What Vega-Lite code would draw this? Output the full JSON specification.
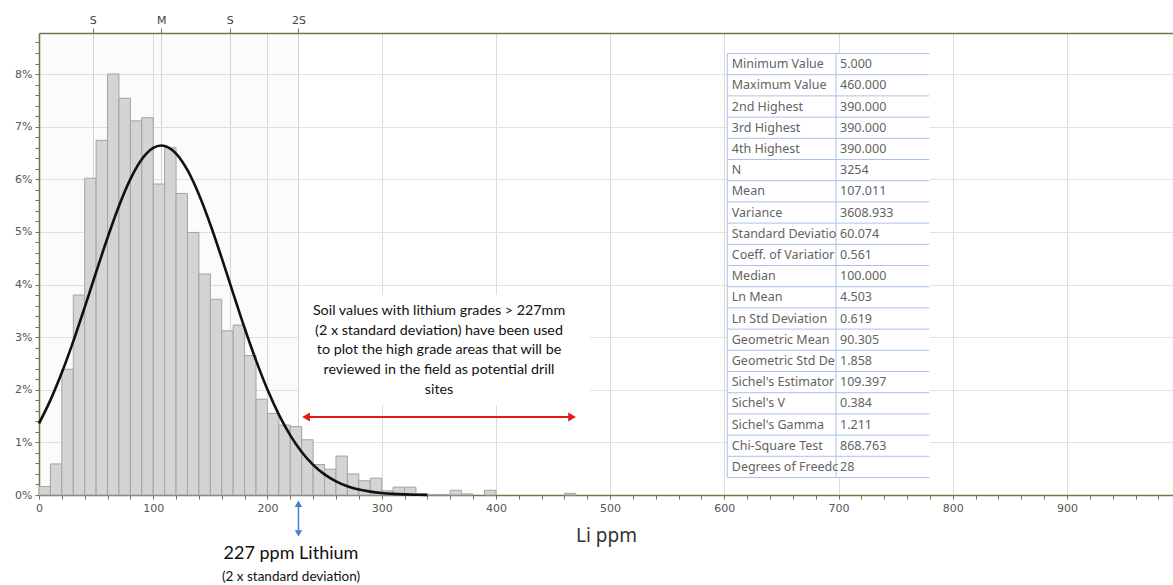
{
  "$schema": "https://vega.github.io/schema/vega-lite/v6.json",
  "width": 1134,
  "height": 462,
  "autosize": {"type": "none"},
  "padding": {"left": 39, "top": 33, "right": 0, "bottom": 90},
  "background": "white",
  "config": {
    "view": {"stroke": null},
    "axis": {
      "domainColor": "#6e7a48",
      "domainWidth": 1.5,
      "tickColor": "#6e7a48",
      "labelColor": "#555555",
      "labelFont": "DejaVu Sans",
      "labelFontSize": 11,
      "labelOverlap": false,
      "labelFlush": false
    }
  },
  "datasets": {
    "bins": [
      {"lo": 0, "hi": 10, "pct": 0.16},
      {"lo": 10, "hi": 20, "pct": 0.59},
      {"lo": 20, "hi": 30, "pct": 2.39},
      {"lo": 30, "hi": 40, "pct": 3.8},
      {"lo": 40, "hi": 50, "pct": 6.02},
      {"lo": 50, "hi": 60, "pct": 6.74},
      {"lo": 60, "hi": 70, "pct": 8.0},
      {"lo": 70, "hi": 80, "pct": 7.54},
      {"lo": 80, "hi": 90, "pct": 7.11},
      {"lo": 90, "hi": 100, "pct": 7.17},
      {"lo": 100, "hi": 110, "pct": 5.91},
      {"lo": 110, "hi": 120, "pct": 6.6},
      {"lo": 120, "hi": 130, "pct": 5.73},
      {"lo": 130, "hi": 140, "pct": 4.99},
      {"lo": 140, "hi": 150, "pct": 4.2},
      {"lo": 150, "hi": 160, "pct": 3.72},
      {"lo": 160, "hi": 170, "pct": 3.12},
      {"lo": 170, "hi": 180, "pct": 3.23},
      {"lo": 180, "hi": 190, "pct": 2.65},
      {"lo": 190, "hi": 200, "pct": 1.82},
      {"lo": 200, "hi": 210, "pct": 1.55},
      {"lo": 210, "hi": 220, "pct": 1.33},
      {"lo": 220, "hi": 230, "pct": 1.3},
      {"lo": 230, "hi": 240, "pct": 1.05},
      {"lo": 240, "hi": 250, "pct": 0.58},
      {"lo": 250, "hi": 260, "pct": 0.49},
      {"lo": 260, "hi": 270, "pct": 0.74},
      {"lo": 270, "hi": 280, "pct": 0.4},
      {"lo": 280, "hi": 290, "pct": 0.27},
      {"lo": 290, "hi": 300, "pct": 0.32},
      {"lo": 300, "hi": 310, "pct": 0.08},
      {"lo": 310, "hi": 320, "pct": 0.15},
      {"lo": 320, "hi": 330, "pct": 0.15},
      {"lo": 330, "hi": 340, "pct": 0.02},
      {"lo": 340, "hi": 350, "pct": 0.01},
      {"lo": 350, "hi": 360, "pct": 0.01},
      {"lo": 360, "hi": 370, "pct": 0.09},
      {"lo": 370, "hi": 380, "pct": 0.02},
      {"lo": 390, "hi": 400, "pct": 0.09},
      {"lo": 460, "hi": 470, "pct": 0.03}
    ],
    "curve": [
      {"li": 0, "pct": 1.359},
      {"li": 10, "pct": 1.803},
      {"li": 20, "pct": 2.327},
      {"li": 30, "pct": 2.92},
      {"li": 40, "pct": 3.566},
      {"li": 50, "pct": 4.233},
      {"li": 60, "pct": 4.889},
      {"li": 70, "pct": 5.493},
      {"li": 80, "pct": 6.003},
      {"li": 90, "pct": 6.38},
      {"li": 100, "pct": 6.596},
      {"li": 107, "pct": 6.641},
      {"li": 110, "pct": 6.633},
      {"li": 120, "pct": 6.488},
      {"li": 130, "pct": 6.172},
      {"li": 140, "pct": 5.711},
      {"li": 150, "pct": 5.141},
      {"li": 160, "pct": 4.501},
      {"li": 170, "pct": 3.833},
      {"li": 180, "pct": 3.174},
      {"li": 190, "pct": 2.558},
      {"li": 200, "pct": 2.004},
      {"li": 210, "pct": 1.527},
      {"li": 220, "pct": 1.133},
      {"li": 230, "pct": 0.817},
      {"li": 240, "pct": 0.573},
      {"li": 250, "pct": 0.391},
      {"li": 260, "pct": 0.259},
      {"li": 270, "pct": 0.167},
      {"li": 280, "pct": 0.105},
      {"li": 290, "pct": 0.064},
      {"li": 300, "pct": 0.038},
      {"li": 310, "pct": 0.022},
      {"li": 320, "pct": 0.012},
      {"li": 330, "pct": 0.006},
      {"li": 340, "pct": 0.003}
    ],
    "stats": [
      {"row": 0, "label": "Minimum Value", "value": "5.000"},
      {"row": 1, "label": "Maximum Value", "value": "460.000"},
      {"row": 2, "label": "2nd Highest", "value": "390.000"},
      {"row": 3, "label": "3rd Highest", "value": "390.000"},
      {"row": 4, "label": "4th Highest", "value": "390.000"},
      {"row": 5, "label": "N", "value": "3254"},
      {"row": 6, "label": "Mean", "value": "107.011"},
      {"row": 7, "label": "Variance", "value": "3608.933"},
      {"row": 8, "label": "Standard Deviatio", "value": "60.074"},
      {"row": 9, "label": "Coeff. of Variatior", "value": "0.561"},
      {"row": 10, "label": "Median", "value": "100.000"},
      {"row": 11, "label": "Ln Mean", "value": "4.503"},
      {"row": 12, "label": "Ln Std Deviation", "value": "0.619"},
      {"row": 13, "label": "Geometric Mean", "value": "90.305"},
      {"row": 14, "label": "Geometric Std De", "value": "1.858"},
      {"row": 15, "label": "Sichel's Estimator", "value": "109.397"},
      {"row": 16, "label": "Sichel's V", "value": "0.384"},
      {"row": 17, "label": "Sichel's Gamma", "value": "1.211"},
      {"row": 18, "label": "Chi-Square Test", "value": "868.763"},
      {"row": 19, "label": "Degrees of Freedc", "value": "28"}
    ]
  },
  "layer": [
    {
      "data": {"values": [{"lo": 0, "hi": 227.159}]},
      "mark": {"type": "rect", "fill": "#000000", "opacity": 0.014},
      "encoding": {
        "x": {
          "field": "lo", "type": "quantitative",
          "scale": {"domain": [0, 992.8], "nice": false, "zero": false},
          "axis": {
            "orient": "top",
            "title": null,
            "values": [46.937, 107.011, 167.085, 227.159],
            "labelExpr": "datum.value < 60 ? 'S' : datum.value < 120 ? 'M' : datum.value < 180 ? 'S' : '2S'",
            "labelColor": "#444444",
            "tickSize": 5,
            "labelPadding": 3,
            "grid": true,
            "gridColor": "#d6d6d6",
            "gridWidth": 1
          }
        },
        "x2": {"field": "hi"},
        "y": {"datum": 0, "type": "quantitative", "axis": null, "scale": {"domain": [0, 8.78], "nice": false}},
        "y2": {"datum": 8.78}
      }
    },
    {
      "data": {"values": [{"x": 228.5, "x2": 482.4, "y": 1.71, "y2": 3.8}]},
      "mark": {"type": "rect", "fill": "white"},
      "encoding": {
        "x": {"field": "x", "type": "quantitative", "axis": null},
        "x2": {"field": "x2"},
        "y": {"field": "y", "type": "quantitative", "axis": null, "scale": {"domain": [0, 8.78], "nice": false}},
        "y2": {"field": "y2"}
      }
    },
    {
      "data": {"name": "bins"},
      "mark": {"type": "rect", "fill": "#d4d4d4", "stroke": "#a3a3a3", "strokeWidth": 1},
      "encoding": {
        "x": {
          "field": "lo", "type": "quantitative",
          "scale": {"domain": [0, 992.8], "nice": false, "zero": false},
          "axis": {
            "orient": "bottom",
            "title": "Li ppm",
            "titleFont": "Noto Sans",
            "titleFontSize": 19,
            "titleFontWeight": "normal",
            "titleColor": "#333333",
            "titlePadding": 13,
            "values": [0,20,40,60,80,100,120,140,160,180,200,220,240,260,280,300,320,340,360,380,400,420,440,460,480,500,520,540,560,580,600,620,640,660,680,700,720,740,760,780,800,820,840,860,880,900,920,940,960,980],
            "labelExpr": "datum.value % 100 === 0 ? datum.label : ''",
            "tickSize": 4,
            "labelPadding": 3,
            "grid": true,
            "gridColor": "#dcdcd4",
            "gridOpacity": {"condition": {"test": "datum.value % 100 === 0", "value": 1}, "value": 0}
          }
        },
        "x2": {"field": "hi"},
        "y": {
          "field": "pct", "type": "quantitative",
          "scale": {"domain": [0, 8.78], "nice": false},
          "axis": {
            "orient": "left",
            "title": null,
            "values": [0,0.2,0.4,0.6,0.8,1,1.2,1.4,1.6,1.8,2,2.2,2.4,2.6,2.8,3,3.2,3.4,3.6,3.8,4,4.2,4.4,4.6,4.8,5,5.2,5.4,5.6,5.8,6,6.2,6.4,6.6,6.8,7,7.2,7.4,7.6,7.8,8,8.2,8.4,8.6],
            "labelExpr": "abs(datum.value - round(datum.value)) < 0.01 ? round(datum.value) + '%' : ''",
            "tickSize": 4,
            "labelPadding": 3,
            "grid": true,
            "gridColor": "#e2e6d0",
            "gridOpacity": {"condition": {"test": "abs(datum.value - round(datum.value)) < 0.01", "value": 1}, "value": 0}
          }
        },
        "y2": {"datum": 0}
      }
    },
    {
      "data": {"name": "curve"},
      "mark": {"type": "line", "color": "#111111", "strokeWidth": 2.6, "interpolate": "monotone"},
      "encoding": {
        "x": {"field": "li", "type": "quantitative", "axis": null},
        "y": {"field": "pct", "type": "quantitative", "axis": null, "scale": {"domain": [0, 8.78], "nice": false}}
      }
    },
    {
      "data": {"values": [{"x": 350.2, "y": 3.5, "t": "Soil values with lithium grades > 227mm\n(2 x standard deviation) have been used\nto plot the high grade areas that will be\nreviewed in the field as potential drill\nsites"}]},
      "mark": {"type": "text", "font": "Lato", "fontSize": 14.3, "color": "#111111", "align": "center", "baseline": "middle", "lineBreak": "\n", "lineHeight": 19.7},
      "encoding": {
        "x": {"field": "x", "type": "quantitative", "axis": null},
        "y": {"field": "y", "type": "quantitative", "axis": null, "scale": {"domain": [0, 8.78], "nice": false}},
        "text": {"field": "t"}
      }
    },
    {
      "data": {"values": [{"x": 232, "x2": 468, "y": 1.482}]},
      "mark": {"type": "rule", "color": "#e3191c", "strokeWidth": 2},
      "encoding": {
        "x": {"field": "x", "type": "quantitative", "axis": null},
        "x2": {"field": "x2"},
        "y": {"field": "y", "type": "quantitative", "axis": null, "scale": {"domain": [0, 8.78], "nice": false}}
      }
    },
    {
      "data": {"values": [{"x": 233.8, "y": 1.482, "s": "triangle-left"}, {"x": 466.7, "y": 1.482, "s": "triangle-right"}]},
      "mark": {"type": "point", "filled": true, "color": "#e3191c", "size": 80, "opacity": 1},
      "encoding": {
        "x": {"field": "x", "type": "quantitative", "axis": null},
        "y": {"field": "y", "type": "quantitative", "axis": null, "scale": {"domain": [0, 8.78], "nice": false}},
        "shape": {"field": "s", "type": "nominal", "scale": null, "legend": null}
      }
    },
    {
      "data": {"values": [{"x": 227.159, "y": -0.15, "y2": -0.74}]},
      "mark": {"type": "rule", "color": "#4a7cc9", "strokeWidth": 1.5},
      "encoding": {
        "x": {"field": "x", "type": "quantitative", "axis": null},
        "y": {"field": "y", "type": "quantitative", "axis": null, "scale": {"domain": [0, 8.78], "nice": false}},
        "y2": {"field": "y2"}
      }
    },
    {
      "data": {"values": [{"x": 227.159, "y": -0.165, "s": "triangle-up"}, {"x": 227.159, "y": -0.73, "s": "triangle-down"}]},
      "mark": {"type": "point", "filled": true, "color": "#4a7cc9", "size": 55, "opacity": 1},
      "encoding": {
        "x": {"field": "x", "type": "quantitative", "axis": null},
        "y": {"field": "y", "type": "quantitative", "axis": null, "scale": {"domain": [0, 8.78], "nice": false}},
        "shape": {"field": "s", "type": "nominal", "scale": null, "legend": null}
      }
    },
    {
      "data": {"values": [{"x": 220.6, "y": -1.121, "t": "227 ppm Lithium", "fs": 18}, {"x": 220.6, "y": -1.558, "t": "(2 x standard deviation)", "fs": 13.5}]},
      "mark": {"type": "text", "font": "Lato", "color": "#111111", "align": "center", "baseline": "middle"},
      "encoding": {
        "x": {"field": "x", "type": "quantitative", "axis": null},
        "y": {"field": "y", "type": "quantitative", "axis": null, "scale": {"domain": [0, 8.78], "nice": false}},
        "text": {"field": "t"},
        "size": {"field": "fs", "type": "quantitative", "scale": null, "legend": null}
      }
    },
    {
      "data": {"name": "stats"},
      "mark": {"type": "rect", "fill": "white"},
      "encoding": {
        "x": {"datum": 602.6, "type": "quantitative", "axis": null},
        "x2": {"datum": 779.4},
        "y": {"field": "row", "type": "quantitative", "axis": null, "scale": {"domain": [-0.967, 20.825], "reverse": true, "nice": false, "zero": false}},
        "y2": {"datum": 20}
      }
    },
    {
      "data": {"name": "stats"},
      "mark": {"type": "rule", "color": "#a9c3ea", "strokeWidth": 1},
      "encoding": {
        "x": {"datum": 602.6, "type": "quantitative", "axis": null},
        "x2": {"datum": 779.4},
        "y": {"field": "row", "type": "quantitative", "axis": null, "scale": {"domain": [-0.967, 20.825], "reverse": true, "nice": false, "zero": false}}
      }
    },
    {
      "data": {"values": [{"row": 20}]},
      "mark": {"type": "rule", "color": "#a9c3ea", "strokeWidth": 1},
      "encoding": {
        "x": {"datum": 602.6, "type": "quantitative", "axis": null},
        "x2": {"datum": 779.4},
        "y": {"field": "row", "type": "quantitative", "axis": null, "scale": {"domain": [-0.967, 20.825], "reverse": true, "nice": false, "zero": false}}
      }
    },
    {
      "data": {"values": [{"x": 602.6, "a": 0, "b": 20}, {"x": 697.8, "a": 0, "b": 20}]},
      "mark": {"type": "rule", "color": "#a9c3ea", "strokeWidth": 1},
      "encoding": {
        "x": {"field": "x", "type": "quantitative", "axis": null},
        "y": {"field": "a", "type": "quantitative", "axis": null, "scale": {"domain": [-0.967, 20.825], "reverse": true, "nice": false, "zero": false}},
        "y2": {"field": "b"}
      }
    },
    {
      "data": {"name": "stats"},
      "mark": {"type": "text", "font": "Noto Sans", "fontSize": 12.5, "color": "#636363", "align": "left", "baseline": "middle", "dy": 10.6},
      "encoding": {
        "x": {"datum": 606.5, "type": "quantitative", "axis": null},
        "y": {"field": "row", "type": "quantitative", "axis": null, "scale": {"domain": [-0.967, 20.825], "reverse": true, "nice": false, "zero": false}},
        "text": {"field": "label"}
      }
    },
    {
      "data": {"name": "stats"},
      "mark": {"type": "text", "font": "Noto Sans", "fontSize": 12.5, "color": "#636363", "align": "left", "baseline": "middle", "dy": 10.6},
      "encoding": {
        "x": {"datum": 701.3, "type": "quantitative", "axis": null},
        "y": {"field": "row", "type": "quantitative", "axis": null, "scale": {"domain": [-0.967, 20.825], "reverse": true, "nice": false, "zero": false}},
        "text": {"field": "value"}
      }
    }
  ],
  "resolve": {"scale": {"y": "independent"}, "axis": {"x": "independent"}}
}
